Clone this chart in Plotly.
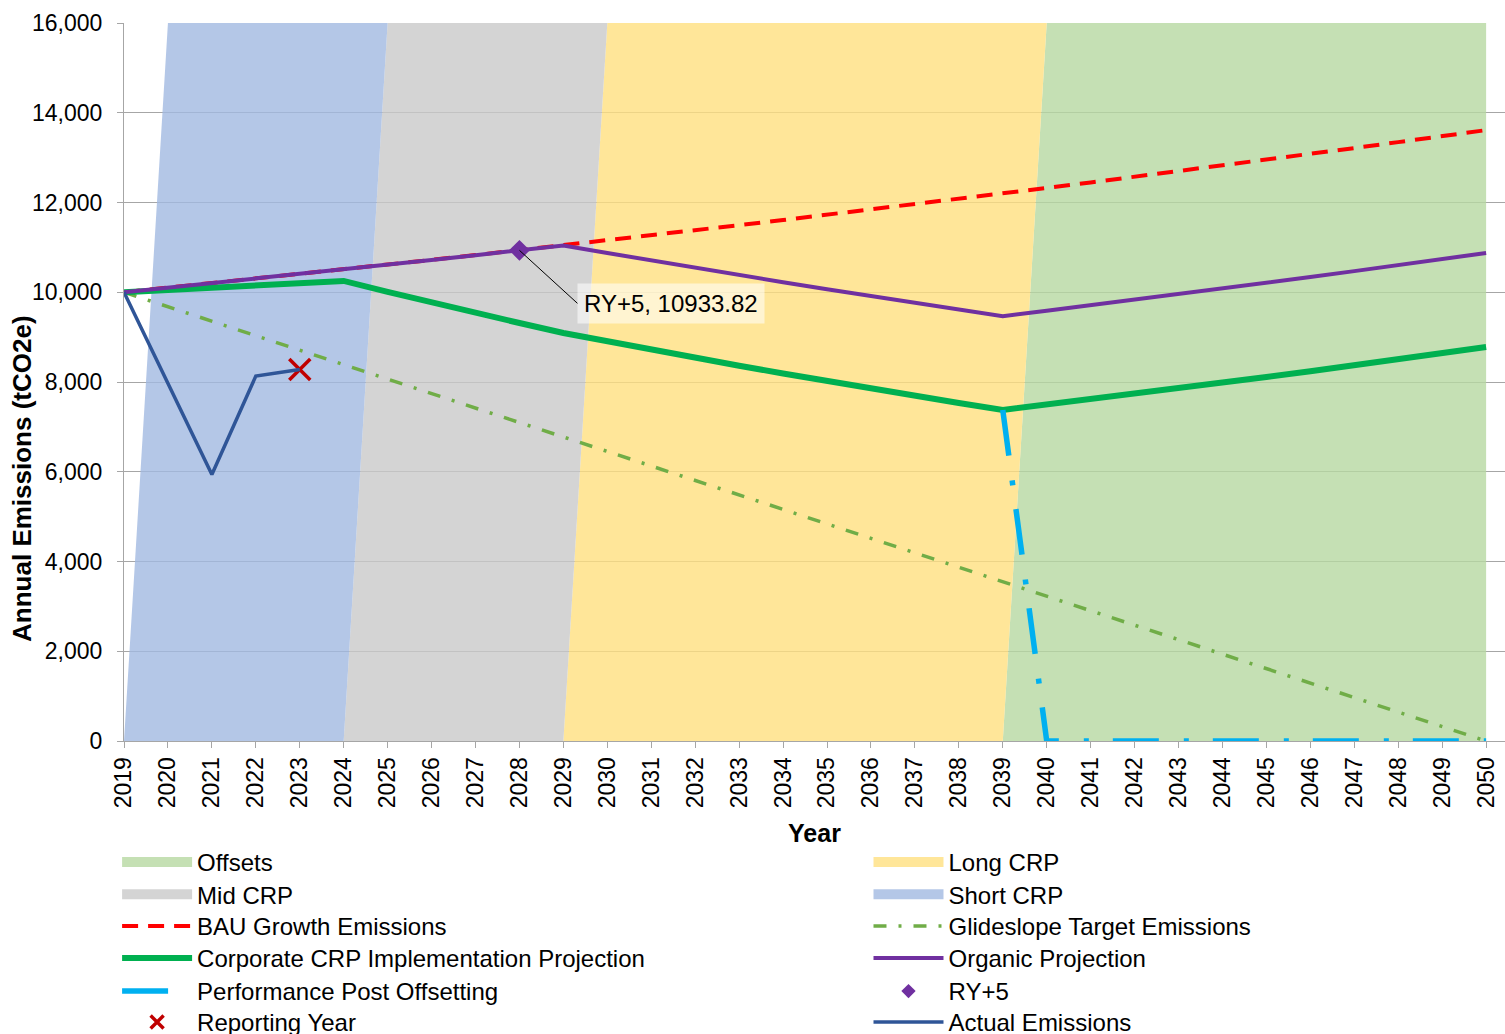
import plotly.graph_objects as go

# ---- data -------------------------------------------------------------
years = list(range(2019, 2051))

# shaded CRP phases (stacked areas, full-height bands)
offsets   = [0] * 21 + [16000] * 11
long_crp  = [0] * 11 + [16000] * 10 + [0] * 11
mid_crp   = [0] * 6 + [16000] * 5 + [0] * 21
short_crp = [0] + [16000] * 5 + [0] * 26

bau = [10000, 10100, 10201, 10303, 10406, 10510, 10615, 10721, 10829, 10937,
       11046, 11157, 11268, 11381, 11495, 11610, 11726, 11843, 11961, 12081,
       12202, 12324, 12447, 12572, 12697, 12824, 12953, 13082, 13213, 13345,
       13478, 13613]

glideslope = [10000, 9677, 9355, 9032, 8710, 8387, 8065, 7742, 7419, 7097,
              6774, 6452, 6129, 5806, 5484, 5161, 4839, 4516, 4194, 3871,
              3548, 3226, 2903, 2581, 2258, 1935, 1613, 1290, 968, 645,
              323, 0]

corporate = [10000, 10050, 10100, 10151, 10202, 10253, 10010, 9772, 9540, 9314,
             9093, 8905, 8720, 8540, 8363, 8190, 8020, 7854, 7691, 7532,
             7376, 7494, 7613, 7735, 7858, 7984, 8111, 8241, 8372, 8506,
             8642, 8780]

organic = [10000, 10100, 10200, 10302, 10405, 10509, 10613, 10719, 10826, 10933.82,
           11043, 10874, 10708, 10544, 10383, 10224, 10068, 9914, 9762, 9613,
           9466, 9586, 9708, 9831, 9956, 10082, 10210, 10340, 10471, 10604,
           10739, 10875]

performance = [None] * 20 + [7376] + [0] * 11

ry5_year = [2028]
ry5_value = [10933.82]

reporting_year = [2023]
reporting_value = [8280]

actual_years = [2019, 2020, 2021, 2022, 2023]
actual = [10000, 7965, 5940, 8134, 8280]

FONT = "Arial, Liberation Sans, sans-serif"
LEGEND_FONT = dict(family=FONT, size=24, color="#000000")

# legend grid: two columns, six rows (each entry gets its own legend box)
legend_cols = [-0.005, 0.5391]
legend_rows = [-0.1379, -0.1825, -0.2270, -0.2716, -0.3175, -0.3607]
legend_ids = ["legend"] + [f"legend{i}" for i in range(2, 13)]

fig = go.Figure()

# stacked bands (bottom to top); swatches come from legend-only proxies
bands = [
    ("Offsets", offsets, "rgba(183,216,161,0.8)", "#C5E0B4"),
    ("Long CRP", long_crp, "rgba(255,224,128,0.8)", "#FFE699"),
    ("Mid CRP", mid_crp, "rgba(201,201,201,0.8)", "#D4D4D4"),
    ("Short CRP", short_crp, "rgba(161,185,225,0.8)", "#B4C7E7"),
]
for name, vals, col, swatch in bands:
    fig.add_trace(go.Scatter(
        x=years, y=vals, name=name, mode="lines", stackgroup="crp",
        line=dict(width=0, color=col), fillcolor=col, hoverinfo="skip",
        legendgroup=name, showlegend=False,
    ))

# line series drawn on the chart
fig.add_trace(go.Scatter(x=years, y=bau, name="BAU Growth Emissions", mode="lines",
                         legendgroup="bau", showlegend=False,
                         line=dict(color="#FF0000", width=4, dash="16px,10px")))
fig.add_trace(go.Scatter(x=years, y=glideslope, name="Glideslope Target Emissions",
                         mode="lines", legendgroup="glide", showlegend=False,
                         line=dict(color="#70AD47", width=3.5, dash="13px,12px,3px,12px")))
fig.add_trace(go.Scatter(x=years, y=corporate, name="Corporate CRP Implementation Projection",
                         mode="lines", legendgroup="corp", showlegend=False,
                         line=dict(color="#00B050", width=6)))
fig.add_trace(go.Scatter(x=years, y=organic, name="Organic Projection", mode="lines",
                         legendgroup="organic", showlegend=False,
                         line=dict(color="#7030A0", width=4)))
fig.add_trace(go.Scatter(x=years, y=performance, name="Performance Post Offsetting",
                         mode="lines", legendgroup="perf", showlegend=False,
                         line=dict(color="#00B0F0", width=5.5, dash="46px,25px,5px,24px")))
fig.add_trace(go.Scatter(x=ry5_year, y=ry5_value, name="RY+5", mode="markers",
                         legendgroup="ry5", showlegend=False,
                         marker=dict(symbol="diamond", size=16, color="#7030A0")))
fig.add_trace(go.Scatter(x=reporting_year, y=reporting_value, name="Reporting Year",
                         mode="markers", legendgroup="ry", showlegend=False,
                         marker=dict(symbol="x-thin", size=21,
                                     line=dict(width=3.5, color="#C00000"))))
fig.add_trace(go.Scatter(x=actual_years, y=actual, name="Actual Emissions", mode="lines",
                         legendgroup="actual", showlegend=False,
                         line=dict(color="#2F5597", width=3.5)))

# legend entries (legend-only proxies, so swatch sizes can be set)
def proxy(name, group, **style):
    return go.Scatter(x=[None], y=[None], name=name, legendgroup=group,
                      hoverinfo="skip", **style)

entries = [proxy(name, name, mode="lines", line=dict(width=13, color=swatch))
           for name, vals, col, swatch in bands]
entries += [
    proxy("BAU Growth Emissions", "bau", mode="lines",
          line=dict(color="#FF0000", width=4, dash="16px,10px")),
    proxy("Glideslope Target Emissions", "glide", mode="lines",
          line=dict(color="#70AD47", width=3.5, dash="13px,12px,3px,12px")),
    proxy("Corporate CRP Implementation Projection", "corp", mode="lines",
          line=dict(color="#00B050", width=6)),
    proxy("Organic Projection", "organic", mode="lines",
          line=dict(color="#7030A0", width=4)),
    proxy("Performance Post Offsetting", "perf", mode="lines",
          line=dict(color="#00B0F0", width=5.5, dash="46px,25px,5px,24px")),
    proxy("RY+5", "ry5", mode="markers",
          marker=dict(symbol="diamond", size=11, color="#7030A0")),
    proxy("Reporting Year", "ry", mode="markers",
          marker=dict(symbol="x-thin", size=13, line=dict(width=3.5, color="#C00000"))),
    proxy("Actual Emissions", "actual", mode="lines",
          line=dict(color="#2F5597", width=3.5)),
]

legend_layout = {}
for i, tr in enumerate(entries):
    lid = legend_ids[i]
    tr.legend = lid
    fig.add_trace(tr)
    legend_layout[lid] = dict(
        orientation="v", x=legend_cols[i % 2], y=legend_rows[i // 2],
        xanchor="left", yanchor="top", itemwidth=70,
        font=LEGEND_FONT, bgcolor="rgba(0,0,0,0)", borderwidth=0,
    )

# data label for the RY+5 point
fig.add_annotation(
    x=ry5_year[0], y=ry5_value[0],
    text=f"RY+5, {ry5_value[0]}",
    showarrow=True, arrowhead=0, arrowwidth=1, arrowcolor="#000000",
    ax=58, ay=53, xanchor="left", yanchor="middle",
    bgcolor="rgba(255,255,255,0.55)", borderpad=6,
    font=dict(family=FONT, size=24, color="#000000"),
)

# y-axis title
fig.add_annotation(
    xref="paper", yref="paper", x=-0.0739, y=0.3663,
    text="<b>Annual Emissions (tCO2e)</b>", textangle=-90, showarrow=False,
    xanchor="center", yanchor="middle",
    font=dict(family=FONT, size=26, color="#000000"),
)

fig.update_layout(
    width=1505, height=1034,
    margin=dict(l=124, r=0, t=23, b=293, autoexpand=False),
    paper_bgcolor="white", plot_bgcolor="white",
    font=dict(family=FONT, size=23, color="#000000"),
    showlegend=True,
    **legend_layout,
)

fig.update_xaxes(
    range=[2019, 2050.43], tickmode="array", tickvals=years,
    ticktext=[str(y) for y in years], tickangle=-90,
    ticks="outside", ticklen=6, tickcolor="#A6A6A6",
    showline=True, linecolor="#A6A6A6", linewidth=1,
    showgrid=False, zeroline=False,
    tickfont=dict(family=FONT, size=23, color="#000000"),
    title=dict(text="<b>Year</b>", standoff=17,
               font=dict(family=FONT, size=25, color="#000000")),
)
fig.update_yaxes(
    range=[0, 16000], tickmode="linear", tick0=0, dtick=2000, tickformat=",",
    ticks="outside", ticklen=6, tickcolor="#A6A6A6", ticklabelstandoff=10,
    showline=True, linecolor="#A6A6A6", linewidth=1,
    showgrid=True, gridcolor="#A6A6A6", gridwidth=1, zeroline=False,
    tickfont=dict(family=FONT, size=23, color="#000000"),
)

fig.write_html("out.html")
